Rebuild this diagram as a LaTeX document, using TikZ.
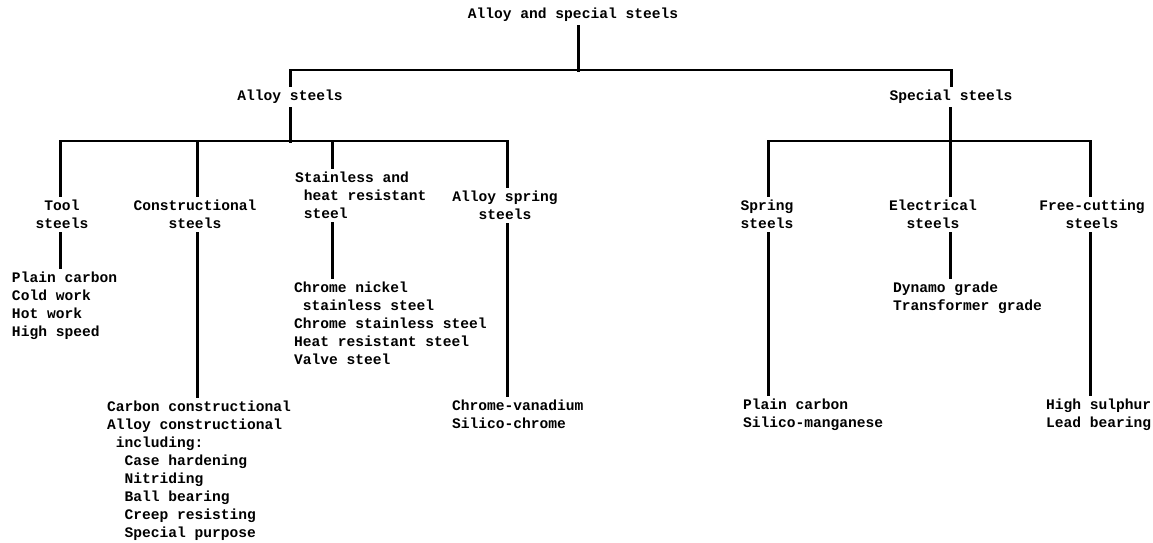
\documentclass[tikz,border=0pt]{standalone}
\usepackage{fontspec}
\setmonofont{Liberation Mono}
\begin{document}
\begin{tikzpicture}[x=1pt,y=-1pt,
  txt/.style={font=\ttfamily\bfseries\fontsize{14.6}{18}\selectfont, inner sep=0pt, outer sep=5pt},
  lbl/.style={txt, align=center, anchor=north},
  lst/.style={txt, align=left, anchor=north west},
  conn/.style={line width=3pt, line cap=rect},
  barline/.style={line width=2pt, line cap=rect}]
\useasboundingbox (0,0) rectangle (1153,542);
% level 0 and 1
\node[txt] (title) at (573,15) {Alloy and special steels};
\node[txt] (alloy) at (290,97) {Alloy steels};
\node[txt] (special) at (951,97) {Special steels};
% level 2 labels
\node[lbl] (tool) at (62,195) {Tool\\steels};
\node[lbl] (constr) at (195,195) {Constructional\\steels};
\node[lst] (stain) at (290,167) {Stainless and\\\hphantom{x}heat resistant\\\hphantom{x}steel};
\node[lbl] (aspring) at (505,186) {Alloy spring\\steels};
\node[lbl] (spring) at (767,195) {Spring\\steels};
\node[lbl] (elec) at (933,195) {Electrical\\steels};
\node[lbl] (free) at (1092,195) {Free-cutting\\steels};
% item lists
\node[lst] (toolitems) at (7,267) {Plain carbon\\Cold work\\Hot work\\High speed};
\node[lst] (constritems) at (102,396) {Carbon constructional\\Alloy constructional\\\hphantom{x}including:\\\hphantom{xx}Case hardening\\\hphantom{xx}Nitriding\\\hphantom{xx}Ball bearing\\\hphantom{xx}Creep resisting\\\hphantom{xx}Special purpose};
\node[lst] (stainitems) at (289,277) {Chrome nickel\\\hphantom{x}stainless steel\\Chrome stainless steel\\Heat resistant steel\\Valve steel};
\node[lst] (asitems) at (447,395) {Chrome-vanadium\\Silico-chrome};
\node[lst] (springitems) at (738,394) {Plain carbon\\Silico-manganese};
\node[lst] (elecitems) at (888,277) {Dynamo grade\\Transformer grade};
\node[lst] (freeitems) at (1041,394) {High sulphur\\Lead bearing};
% junctions
\coordinate (j0) at (578,70);
\coordinate (t1) at (60,141);
\coordinate (t2) at (197,141);
\coordinate (t3) at (332,141);
\coordinate (t4) at (507,141);
\coordinate (u1) at (768,141);
\coordinate (u2) at (950,141);
\coordinate (u3) at (1090,141);
% horizontal bars
\draw[barline] (alloy.north |- j0) -- (special.north |- j0);
\draw[barline] (t1) -- (t4);
\draw[barline] (u1) -- (u3);
% connectors
\draw[conn] (title.south -| j0) -- (j0);
\draw[conn] (alloy.north |- j0) -- (alloy.north);
\draw[conn] (special.north |- j0) -- (special.north);
\draw[conn] (alloy.south) -- (alloy.south |- t1);
\draw[conn] (t1) -- (t1 |- tool.north);
\draw[conn] (t2) -- (t2 |- constr.north);
\draw[conn] (t3) -- (t3 |- stain.north);
\draw[conn] (t4) -- (t4 |- aspring.north);
\draw[conn] (special.south -| u2) -- (u2 |- elec.north);
\draw[conn] (u1) -- (u1 |- spring.north);
\draw[conn] (u3) -- (u3 |- free.north);
% lower connectors
\draw[conn] (t1 |- tool.south) -- (t1 |- toolitems.north);
\draw[conn] (t2 |- constr.south) -- (t2 |- constritems.north);
\draw[conn] (t3 |- stain.south) -- (t3 |- stainitems.north);
\draw[conn] (t4 |- aspring.south) -- (t4 |- asitems.north);
\draw[conn] (u1 |- spring.south) -- (u1 |- springitems.north);
\draw[conn] (u2 |- elec.south) -- (u2 |- elecitems.north);
\draw[conn] (u3 |- free.south) -- (u3 |- freeitems.north);
\end{tikzpicture}
\end{document}
